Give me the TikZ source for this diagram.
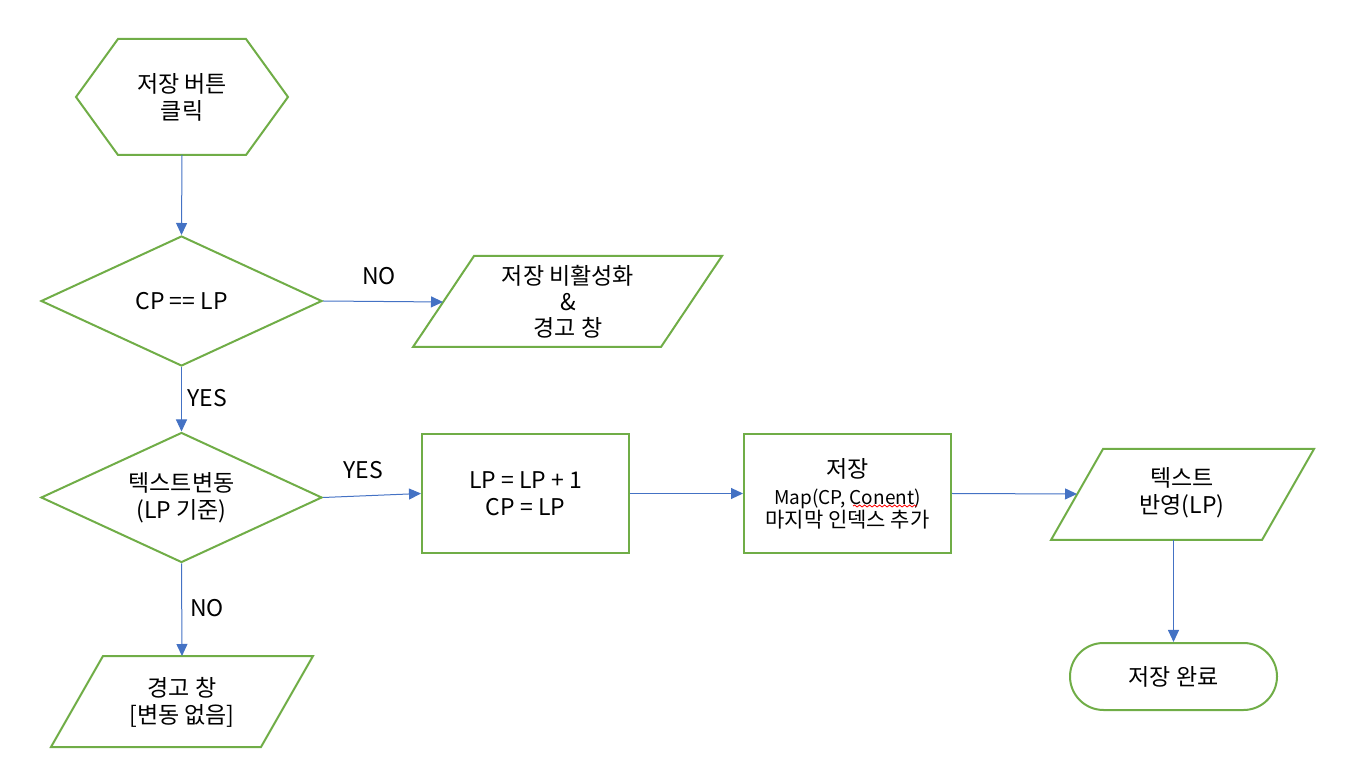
\documentclass[tikz,border=0pt]{standalone}
\usepackage{fontspec}
\setmainfont{Noto Sans CJK KR}
\usetikzlibrary{shapes.geometric,shapes.misc,arrows.meta,decorations.pathmorphing}
\definecolor{gr}{HTML}{70AD47}
\definecolor{bl}{HTML}{4472C4}
\begin{document}
\begin{tikzpicture}[x=0.5pt,y=-0.5pt,
  shp/.style={draw=gr, line width=1pt},
  txt/.style={align=center, font=\fontsize{11.5}{13.5}\selectfont, inner sep=0pt},
  dia/.style={shp, diamond, shape aspect=2.16, minimum width=140.5pt, minimum height=65pt, inner sep=0pt, txt},
  box/.style={shp, rectangle, minimum width=103.5pt, minimum height=59.5pt, inner sep=0pt, txt},
  arr/.style={draw=bl, line width=0.5pt, -{Triangle[length=6pt,width=5.5pt]}},
  lbl/.style={font=\fontsize{11.5}{13}\selectfont, inner sep=0pt}]
\path[use as bounding box] (0,0) rectangle (1348,779);
% hexagon start
\draw[shp] (76,97) -- (118,39) -- (246,39) -- (288,97) -- (246,155) -- (118,155) -- cycle;
\node[txt] (start) at (182,97) {저장 버튼\\클릭};
\coordinate (startS) at (182,155);
% decisions
\node[dia] (d1) at (181.5,301) {CP == LP};
\node[dia] (d2) at (181.5,497.5) {텍스트변동\\(LP 기준)};
% parallelogram 1
\draw[shp] (413,347) -- (474,256) -- (722,256) -- (661,347) -- cycle;
\node[txt] (p1) at (568,302) {저장 비활성화\\[-0.5pt]\&\\[-0.5pt]경고 창};
\coordinate (p1W) at (443,302);
% process boxes
\node[box] (r1) at (525.5,493.5) {LP = LP + 1\\CP = LP};
\node[box] (r2) at (847.5,493.5) {저장\\{\fontsize{9.5}{11}\selectfont Map(CP, Conent)}\\[-2pt]{\fontsize{10.5}{12}\selectfont 마지막 인덱스 추가}};
\draw[red, line width=0.4pt, decorate, decoration={snake, amplitude=0.5pt, segment length=2.5pt}] (853,506) -- (917,506);
% parallelogram 2
\draw[shp] (1051,540) -- (1103,449) -- (1314,449) -- (1262,540) -- cycle;
\node[txt] (p2) at (1182,493) {텍스트\\반영(LP)};
\coordinate (p2W) at (1077,494);
\coordinate (p2S) at (1173.5,540);
% terminal
\node[shp, rounded rectangle, minimum width=103.5pt, minimum height=33.5pt, inner sep=0pt, txt] (done) at (1173.5,676.5) {저장 완료};
% parallelogram 3
\draw[shp] (51,747) -- (103,656) -- (313,656) -- (261,747) -- cycle;
\node[txt] (p3) at (182,702) {경고 창\\{[}변동 없음{]}};
\coordinate (p3N) at (182,656);
% connectors
\draw[arr] (startS) -- (d1.north);
\draw[arr] (d1.east) -- (p1W);
\draw[arr] (d1.south) -- (d2.north);
\draw[arr] (d2.east) -- (r1.west);
\draw[arr] (r1.east) -- (r2.west);
\draw[arr] (r2.east) -- (p2W);
\draw[arr] (p2S) -- (done.north);
\draw[arr] (d2.south) -- (p3N);
% labels
\node[lbl] (lno1) at (379,276) {NO};
\node[lbl] (lyes1) at (207,398) {YES};
\node[lbl] (lyes2) at (363,470) {YES};
\node[lbl] (lno2) at (207,608) {NO};
\end{tikzpicture}
\end{document}
